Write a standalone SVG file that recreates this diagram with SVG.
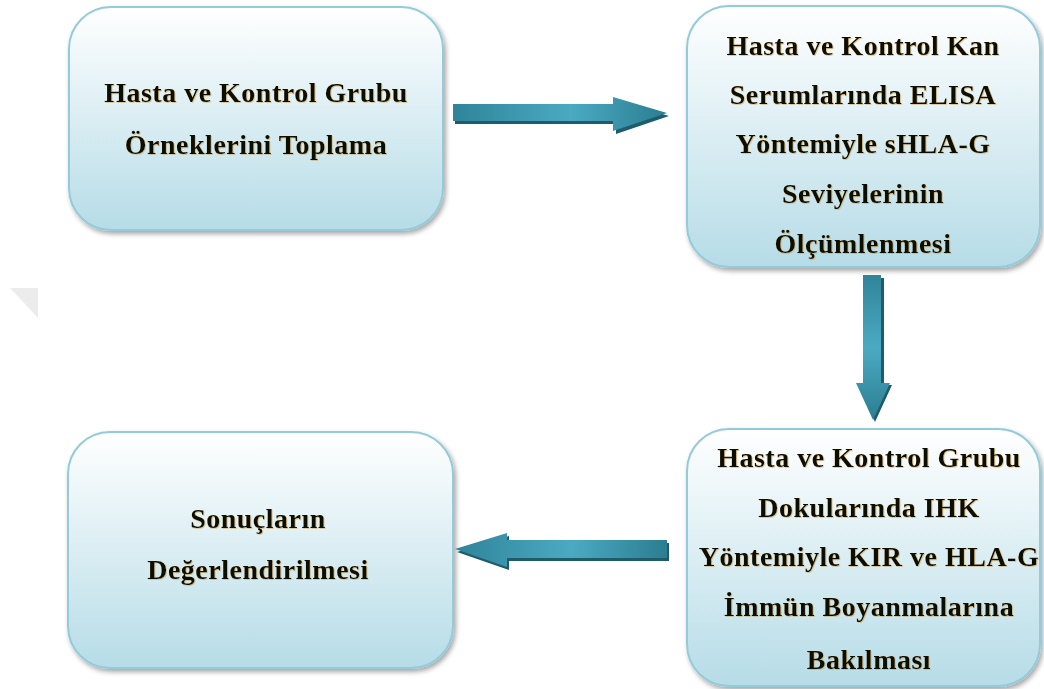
<svg xmlns="http://www.w3.org/2000/svg" width="1044" height="689" viewBox="0 0 1044 689">
<defs>
<linearGradient id="boxg" x1="0" y1="0" x2="0" y2="1">
<stop offset="0" stop-color="#ffffff"/>
<stop offset="1" stop-color="#b6dce7"/>
</linearGradient>
<linearGradient id="arrh" x1="0" y1="0" x2="1" y2="0">
<stop offset="0" stop-color="#2f8499"/>
<stop offset="0.55" stop-color="#4aaac2"/>
<stop offset="1" stop-color="#2c7d91"/>
</linearGradient>
<linearGradient id="arrv" x1="0" y1="0" x2="0" y2="1">
<stop offset="0" stop-color="#2f8499"/>
<stop offset="0.5" stop-color="#4aaac2"/>
<stop offset="1" stop-color="#2c7d91"/>
</linearGradient>
<filter id="shadow" x="-10%" y="-10%" width="120%" height="125%">
<feDropShadow dx="2" dy="3" stdDeviation="2.5" flood-color="#000" flood-opacity="0.35"/>
</filter>
<filter id="tglow" x="-5%" y="-20%" width="110%" height="140%">
<feDropShadow dx="0.8" dy="0.8" stdDeviation="0.5" flood-color="#c8953a" flood-opacity="0.55"/>
</filter>
<style>
.box{fill:url(#boxg);stroke:#93cbda;stroke-width:2;filter:url(#shadow)}
.t{font-family:"Liberation Serif","Times New Roman",serif;font-weight:bold;font-size:28px;letter-spacing:0.5px;fill:#0e0a04;text-anchor:middle;filter:url(#tglow)}
.ash{fill:#1e5b6b}
</style>
</defs>
<rect width="1044" height="689" fill="#ffffff"/>
<polygon points="10,288 38,288 38,318" fill="#ececec"/>

<g id="node1">
<rect class="box" x="69" y="7" width="374" height="223" rx="42"/>
<text class="t" x="256" y="102">Hasta ve Kontrol Grubu</text>
<text class="t" x="256" y="154">Örneklerini Toplama</text>
</g>

<g id="node2">
<rect class="box" x="687" y="6" width="353" height="261" rx="42"/>
<text class="t" x="863" y="55">Hasta ve Kontrol Kan</text>
<text class="t" x="863" y="104">Serumlarında ELISA</text>
<text class="t" x="863" y="153">Yöntemiyle sHLA-G</text>
<text class="t" x="863" y="203">Seviyelerinin</text>
<text class="t" x="863" y="253">Ölçümlenmesi</text>
</g>

<g id="node3">
<rect class="box" x="687" y="429" width="353" height="257" rx="42"/>
<text class="t" x="869" y="467">Hasta ve Kontrol Grubu</text>
<text class="t" x="869" y="517">Dokularında IHK</text>
<text class="t" x="869" y="566">Yöntemiyle KIR ve HLA-G</text>
<text class="t" x="869" y="616">İmmün Boyanmalarına</text>
<text class="t" x="869" y="669">Bakılması</text>
</g>

<g id="node4">
<rect class="box" x="68" y="432" width="385" height="236" rx="42"/>
<text class="t" x="258" y="528">Sonuçların</text>
<text class="t" x="258" y="579">Değerlendirilmesi</text>
</g>

<g id="connectors">
<polygon class="ash" points="455,107 616,107 616,100 669,116 616,134 616,124 455,124"/>
<polygon fill="url(#arrh)" points="453,104 613,104 613,97 667,113 613,131 613,121 453,121"/>

<polygon class="ash" points="866,278 884,278 884,385 892,385 875,422 858,385 866,385"/>
<polygon fill="url(#arrv)" points="863,275 881,275 881,383 890,383 873,420 856,383 863,383"/>

<polygon class="ash" points="669,543 669,561 509,561 509,570 457,552 509,536 509,543"/>
<polygon fill="url(#arrh)" points="667,540 667,558 507,558 507,567 455,549 507,533 507,540"/>
</g>
</svg>
